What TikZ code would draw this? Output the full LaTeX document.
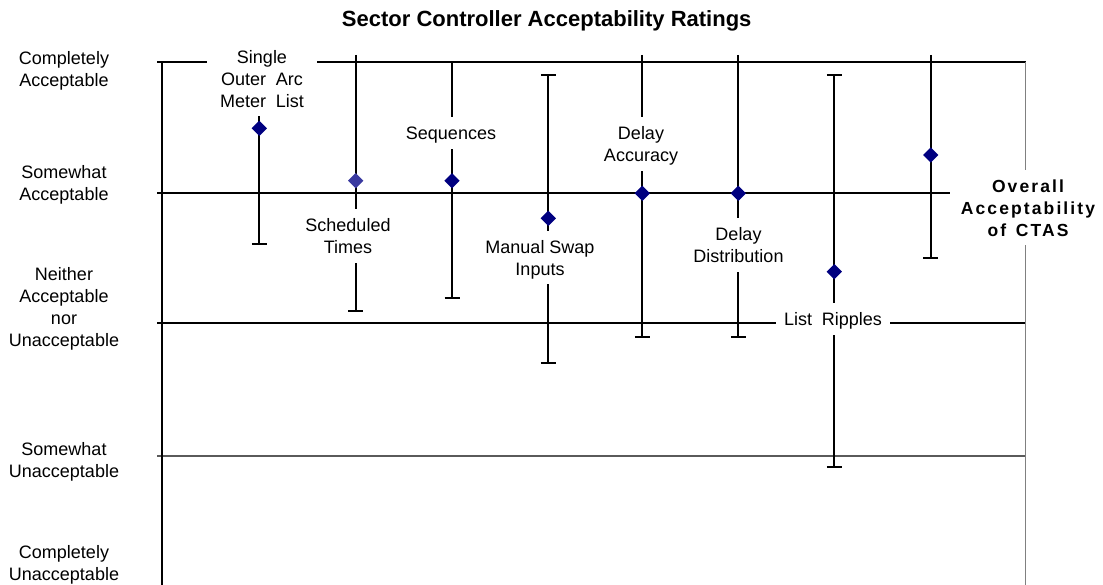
\documentclass[tikz,border=0pt]{standalone}
\usepackage{fontspec}
\setmainfont{Liberation Sans}
\usetikzlibrary{shapes.geometric}
\definecolor{navy}{HTML}{000080}
\definecolor{softnavy}{HTML}{3A3AA0}
\definecolor{axgray}{HTML}{808080}
\definecolor{gridgray}{HTML}{5A5A5A}
\newcommand\tpst{\rule{0pt}{22.5pt}}
\newcommand\btst{\rule[-9pt]{0pt}{9pt}}
\newcommand\wsp{\hspace{0.55em}}
\begin{document}
\begin{tikzpicture}[x=1pt,y=-1pt,
  gridln/.style={line width=1.2pt,black},
  barln/.style={line width=2pt,black},
  capln/.style={line width=2pt,black},
  mk/.style={diamond,fill=navy,inner sep=0pt,minimum width=15.5pt,minimum height=15.5pt},
  lbl/.style={fill=white,inner xsep=8pt,inner ysep=0pt,anchor=base,font=\fontsize{18}{22}\selectfont},
  axlbl/.style={inner sep=0pt,anchor=base,font=\fontsize{18}{22}\selectfont},
  ttl/.style={inner sep=0pt,anchor=base,font=\fontsize{22}{26}\selectfont\bfseries}]
\useasboundingbox (0,0) rectangle (1103,585);
% title
\node[ttl] (title) at (546.7,26.5) {Sector Controller Acceptability Ratings};
% axis labels
\node[axlbl] (l1) at (64,65) {\begin{tabular}[t]{@{}c@{}}Completely\\Acceptable\end{tabular}};
\node[axlbl] (l2) at (64,179) {\begin{tabular}[t]{@{}c@{}}Somewhat\\Acceptable\end{tabular}};
\node[axlbl] (l3) at (64,281) {\begin{tabular}[t]{@{}c@{}}Neither\\Acceptable\\nor\\Unacceptable\end{tabular}};
\node[axlbl] (l4) at (64,455) {\begin{tabular}[t]{@{}c@{}}Somewhat\\Unacceptable\end{tabular}};
\node[axlbl] (l5) at (64,558) {\begin{tabular}[t]{@{}c@{}}Completely\\Unacceptable\end{tabular}};
% grid and axes
\coordinate (g1a) at (157,62);  \coordinate (g1b) at (1025.5,62);
\coordinate (g2a) at (157,193); \coordinate (g2b) at (1025.5,193);
\coordinate (g3a) at (157,323); \coordinate (g3b) at (1025.5,323);
\coordinate (g4a) at (157,456); \coordinate (g4b) at (1025.5,456);
\draw[gridln] (g1a) -- (g1b);
\draw[gridln] (g2a) -- (g2b);
\draw[gridln] (g3a) -- (g3b);
\draw[gridln,gridgray] (g4a) -- (g4b);
\coordinate (axLt) at (162,62);  \coordinate (axLb) at (162,585);
\coordinate (axRt) at (1025.5,62); \coordinate (axRb) at (1025.5,585);
\draw[line width=1.7pt,black] (axLt) -- (axLb);
\draw[line width=1.3pt,axgray] (axRt) -- (axRb);
% error bars: x, top, bottom
\foreach \n/\x/\t/\b/\tc in {b1/259.3/55/244.3/0, b2/355.7/55/311/0, b3/452/62/297.7/1, b4/548.3/75/363.3/1,
                             b5/642.3/55/337.3/0, b6/738.3/55/337.3/0, b7/834.3/75/467.3/1, b8/930.7/55/258.3/0}{
  \coordinate (\n t) at (\x,\t);
  \coordinate (\n b) at (\x,\b);
  \draw[barln] (\n t) -- (\n b);
  \draw[capln] ([xshift=-7.5pt]\n b) -- ([xshift=7.5pt]\n b);
  \ifnum\tc=1 \draw[capln] ([xshift=-7.5pt]\n t) -- ([xshift=7.5pt]\n t); \fi
}
% means
\node[mk] (m1) at (259.3,128.3) {};
\node[mk,fill=softnavy] (m2) at (355.7,180.7) {};
\node[mk] (m3) at (452,180.7) {};
\node[mk] (m4) at (548.3,218.3) {};
\node[mk] (m5) at (642.3,193.3) {};
\node[mk] (m6) at (738.3,193.3) {};
\node[mk] (m7) at (834.3,271.7) {};
\node[mk] (m8) at (930.7,155) {};
% data labels
\node[lbl,inner xsep=13pt] (t1) at (262,63.5) {\begin{tabular}[t]{@{}c@{}}\tpst Single\\Outer\wsp Arc\\Meter\wsp List\btst\end{tabular}};
\node[lbl] (t2) at (348,231.8) {\begin{tabular}[t]{@{}c@{}}\tpst Scheduled\\Times\btst\end{tabular}};
\node[lbl] (t3) at (451,139.8) {\begin{tabular}[t]{@{}c@{}}\tpst Sequences\btst\end{tabular}};
\node[lbl] (t4) at (540,253.2) {\begin{tabular}[t]{@{}c@{}}\tpst Manual Swap\\Inputs\btst\end{tabular}};
\node[lbl] (t5) at (641,139.8) {\begin{tabular}[t]{@{}c@{}}\tpst Delay\\Accuracy\btst\end{tabular}};
\node[lbl] (t6) at (738.5,240.8) {\begin{tabular}[t]{@{}c@{}}\tpst Delay\\Distribution\btst\end{tabular}};
\node[lbl] (t7) at (833,326) {\begin{tabular}[t]{@{}c@{}}\tpst List\wsp Ripples\btst\end{tabular}};
\node[lbl,inner xsep=11pt,font=\fontsize{17.5}{22}\selectfont\bfseries\addfontfeatures{LetterSpace=12}] (t8) at (1028,192.5)
  {\begin{tabular}[t]{@{}c@{}}\tpst Overall\\Acceptability\\of\wsp CTAS\btst\end{tabular}};
\end{tikzpicture}
\end{document}
